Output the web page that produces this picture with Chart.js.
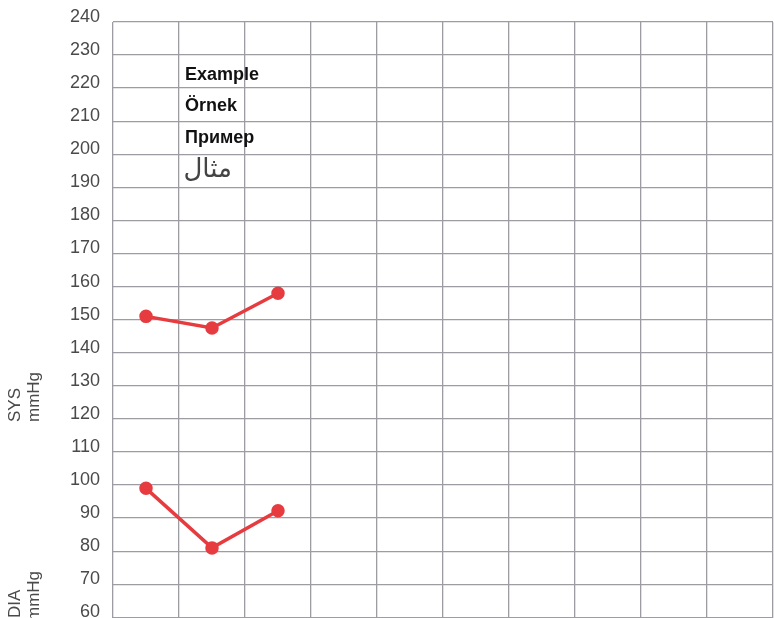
<!DOCTYPE html>
<html>
<head>
<meta charset="utf-8">
<script src="https://cdn.jsdelivr.net/npm/chart.js@4"></script>
<style>
	html, body { margin: 0; padding: 0; background: #fff; }
	#wrap { width: 774px; height: 618px; }
</style>
</head>
<body>
<div id="wrap"><canvas id="bpCanvas" width="774" height="618"></canvas></div>
<script>
// readings (10 columns on the sheet, only 3 filled in)
var readings = ["1", "2", "3", "4", "5", "6", "7", "8", "9", "10"];
var sysValues = [151, 147.5, 158];
var diaValues = [99, 81, 92.2];
var yTicks = [60, 70, 80, 90, 100, 110, 120, 130, 140, 150, 160, 170, 180, 190, 200, 210, 220, 230, 240];
var exampleWords = ["Example", "Örnek", "Пример"];
var arabicWord = "مثال";

var lineRed = "#e63c40";
var gridGrey = "#9c9ca2";

function $each(arr, fn){
	for (var i = 0; i < arr.length; i++) { fn(arr[i], i); }
}

// draws the axis captions and the example words on the sheet
var sheetText = {
	id: "sheetText",
	afterDraw: function(chart){
		var ctx = chart.ctx;
		ctx.save();
		ctx.fillStyle = "#4a4a4a";
		ctx.textAlign = "left";
		ctx.textBaseline = "alphabetic";
		ctx.font = "17px 'Liberation Sans', Arial, sans-serif";

		// rotated captions, reading bottom to top
		var caps = [
			{ x: 20, y: 422, t: "SYS" },
			{ x: 39, y: 422, t: "mmHg" },
			{ x: 20, y: 618, t: "DIA" },
			{ x: 39, y: 621, t: "mmHg" }
		];
		$each(caps, function(c){
			ctx.save();
			ctx.translate(c.x, c.y);
			ctx.rotate(-Math.PI / 2);
			ctx.fillText(c.t, 0, 0);
			ctx.restore();
		});

		// example words
		ctx.fillStyle = "#111";
		ctx.font = "bold 18px 'Liberation Sans', Arial, sans-serif";
		var baseY = [80, 111, 143];
		$each(exampleWords, function(w, i){
			ctx.fillText(w, 185, baseY[i]);
		});
		ctx.fillStyle = "#444";
		ctx.font = "26px 'DejaVu Sans', 'Noto Sans', sans-serif";
		ctx.direction = "rtl";
		ctx.textAlign = "right";
		ctx.fillText(arabicWord, 232, 177);
		ctx.restore();
	}
};

var ctx = document.getElementById("bpCanvas");
var bpChart = new Chart(ctx, {
	type: "line",
	data: {
		labels: readings,
		datasets: [
			{
				label: "SYS",
				data: sysValues,
				borderColor: lineRed,
				backgroundColor: lineRed,
				pointBackgroundColor: lineRed,
				pointBorderColor: lineRed,
				borderWidth: 3.5,
				pointRadius: 5,
				tension: 0
			},
			{
				label: "DIA",
				data: diaValues,
				borderColor: lineRed,
				backgroundColor: lineRed,
				pointBackgroundColor: lineRed,
				pointBorderColor: lineRed,
				borderWidth: 3.5,
				pointRadius: 5,
				tension: 0
			}
		]
	},
	options: {
		responsive: false,
		animation: false,
		layout: { autoPadding: false, padding: { top: 22, right: 1, bottom: 0, left: 0 } },
		plugins: {
			legend: { display: false },
			tooltip: { enabled: false }
		},
		scales: {
			x: {
				offset: true,
				grid: { offset: true, color: gridGrey, lineWidth: 1.3, drawTicks: false },
				border: { display: false },
				ticks: { display: false },
				afterFit: function(scale){ scale.height = 0; }
			},
			y: {
				min: 59.8,
				max: 240,
				afterBuildTicks: function(scale){
					scale.ticks = yTicks.map(function(v){ return { value: v }; });
				},
				afterFit: function(scale){
					scale.width = 113;
					scale.paddingTop = 0;
					scale.paddingBottom = 0;
				},
				grid: { color: gridGrey, lineWidth: 1.3, drawTicks: false },
				border: { display: false },
				ticks: {
					padding: 13,
					labelOffset: -5,
					color: "#4a4a4a",
					font: { family: "'Liberation Sans', Arial, sans-serif", size: 18 }
				}
			}
		}
	},
	plugins: [sheetText]
});
</script>
</body>
</html>
